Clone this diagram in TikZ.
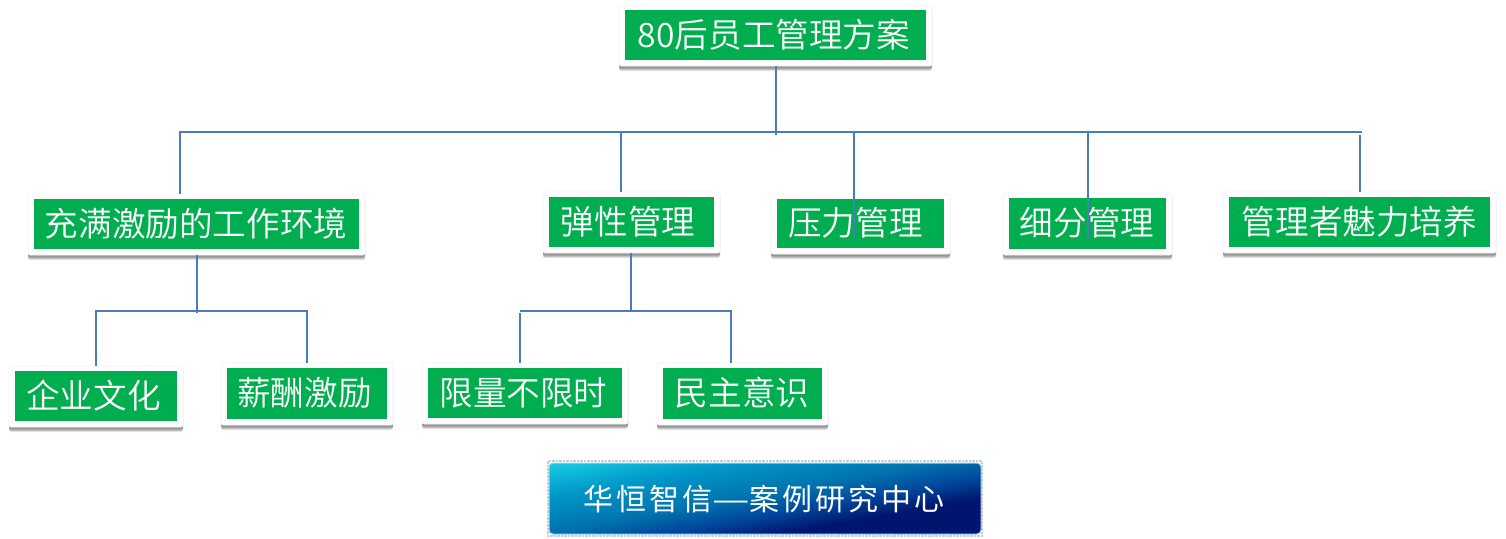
\documentclass[tikz,border=0pt]{standalone}
\usepackage{fontspec}
\setmainfont{Noto Sans CJK SC DemiLight}
\newfontfamily\badgefont[LetterSpace=10]{Noto Sans CJK SC}
\usetikzlibrary{shadows,calc}
\definecolor{boxgreen}{HTML}{00AE50}
\definecolor{wire}{HTML}{4A7EBB}
\definecolor{badgeA}{HTML}{00156E}
\definecolor{badgeB}{HTML}{00459A}
\definecolor{badgeC}{HTML}{0072AE}
\definecolor{badgeE}{HTML}{0098C8}
\definecolor{badgeD}{HTML}{20E0F0}
\pgfdeclareverticalshading{badgeshade}{100bp}{color(0bp)=(badgeA); color(35bp)=(badgeA); color(43bp)=(badgeB); color(52bp)=(badgeC); color(66bp)=(badgeE); color(84bp)=(badgeD); color(100bp)=(badgeD)}
\tikzset{
  outerbox/.style={fill=white,draw=black!5,line width=.6pt,rounded corners=2pt,inner sep=0pt,
    general shadow={fill=black,opacity=.10,shadow xshift=0pt,shadow yshift=-5pt},
    general shadow={fill=black,opacity=.16,shadow xshift=0pt,shadow yshift=-4pt},
    general shadow={fill=black,opacity=.22,shadow xshift=0pt,shadow yshift=-2.5pt}},
  innerbox/.style={fill=boxgreen,inner sep=0pt},
  boxtext/.style={text=white,inner sep=0pt,font=\fontsize{33.6}{33.6}\selectfont,text height=27.5pt,text depth=3pt},
  wireline/.style={draw=wire,line width=2pt},
}
\newcommand{\greenbox}[7]{%
  \node[outerbox,minimum width={(#4-#2)*1pt},minimum height={(#5-#3)*1pt}] (#1) at ({(#2+#4)/2},{(#3+#5)/2}) {};
  \node[innerbox,minimum width={(#4-#2-12)*1pt},minimum height={(#5-#3-11)*1pt}] (#1in) at ({(#2+#4)/2},{(#3+#5)/2-0.5}) {};
  \node[boxtext] (#1txt) at ({#6},{(#3+#5)/2-0.5}) {#7};}
\begin{document}
\begin{tikzpicture}[x=1pt,y=-1pt]
\useasboundingbox (0,0) rectangle (1506,538);
\greenbox{root}{619}{5}{932}{66}{774}{80后员工管理方案}
\greenbox{env}{28}{194}{365}{255}{196}{充满激励的工作环境}
\greenbox{flex}{543}{192}{720}{253}{628}{弹性管理}
\greenbox{press}{771}{194}{950}{254}{855.5}{压力管理}
\greenbox{fine}{1003}{193}{1172}{255}{1087}{细分管理}
\greenbox{charm}{1223}{192}{1496}{253}{1359.5}{管理者魅力培养}
\greenbox{corp}{9}{366}{183}{427}{93.5}{企业文化}
\greenbox{pay}{221}{363}{393}{425}{304.5}{薪酬激励}
\greenbox{quota}{422}{363}{628}{424}{523.5}{限量不限时}
\greenbox{demo}{657}{363}{828}{425}{742}{民主意识}
% connectors
\coordinate (busL) at (180,132);
\coordinate (busR) at (1362,132);
\coordinate (busC) at (776,135);
\coordinate (flexTop) at (621,132);
\coordinate (pressTop) at (854,132);
\coordinate (fineTop) at (1088,132);
\coordinate (charmTop) at (1360,135);
\coordinate (pressEnd) at (854,238);
\coordinate (fineEnd) at (1088,237);
\draw[wireline] (root.south -| busC) -- (busC);
\draw[wireline] (busL |- env.north) -- (busL) -- (busR);
\draw[wireline] (flexTop) -- (flexTop |- flex.north);
\draw[wireline] (pressTop) -- (pressEnd);
\draw[wireline] (fineTop) -- (fineEnd);
\draw[wireline] (charmTop) -- (charmTop |- charm.north);
\coordinate (envDrop) at (197,313);
\coordinate (envBusL) at (96,311);
\coordinate (envBusR) at (307,311);
\draw[wireline] (envDrop |- env.south) -- (envDrop);
\draw[wireline] (envBusL |- corp.north) -- (envBusL) -- (envBusR) -- (envBusR |- pay.north);
\coordinate (flexDrop) at (631,311);
\coordinate (flexBusL) at (520,311);
\coordinate (flexBusR) at (731,311);
\coordinate (quotaTop) at (520,313);
\draw[wireline] (flexDrop |- flex.south) -- (flexDrop);
\draw[wireline] (flexBusL) -- (flexBusR) -- (flexBusR |- demo.north);
\draw[wireline] (quotaTop) -- (quotaTop |- quota.north);
% badge
\draw[gray!40,densely dotted,line width=2.5pt] (548,461) rectangle (982,536);
\node[rounded corners=4pt,shading=badgeshade,shading angle=10,draw=cyan!45!white,line width=1pt,
  minimum width=432pt,minimum height=71pt,inner sep=0pt] (badge) at (765,498.5) {};
\node[text=white,inner sep=0pt,font=\badgefont\fontsize{30}{30}\selectfont] (badgetxt) at (764,499) {华恒智信\scalebox{1.4}[1]{—}案例研究中心};
\end{tikzpicture}
\end{document}
